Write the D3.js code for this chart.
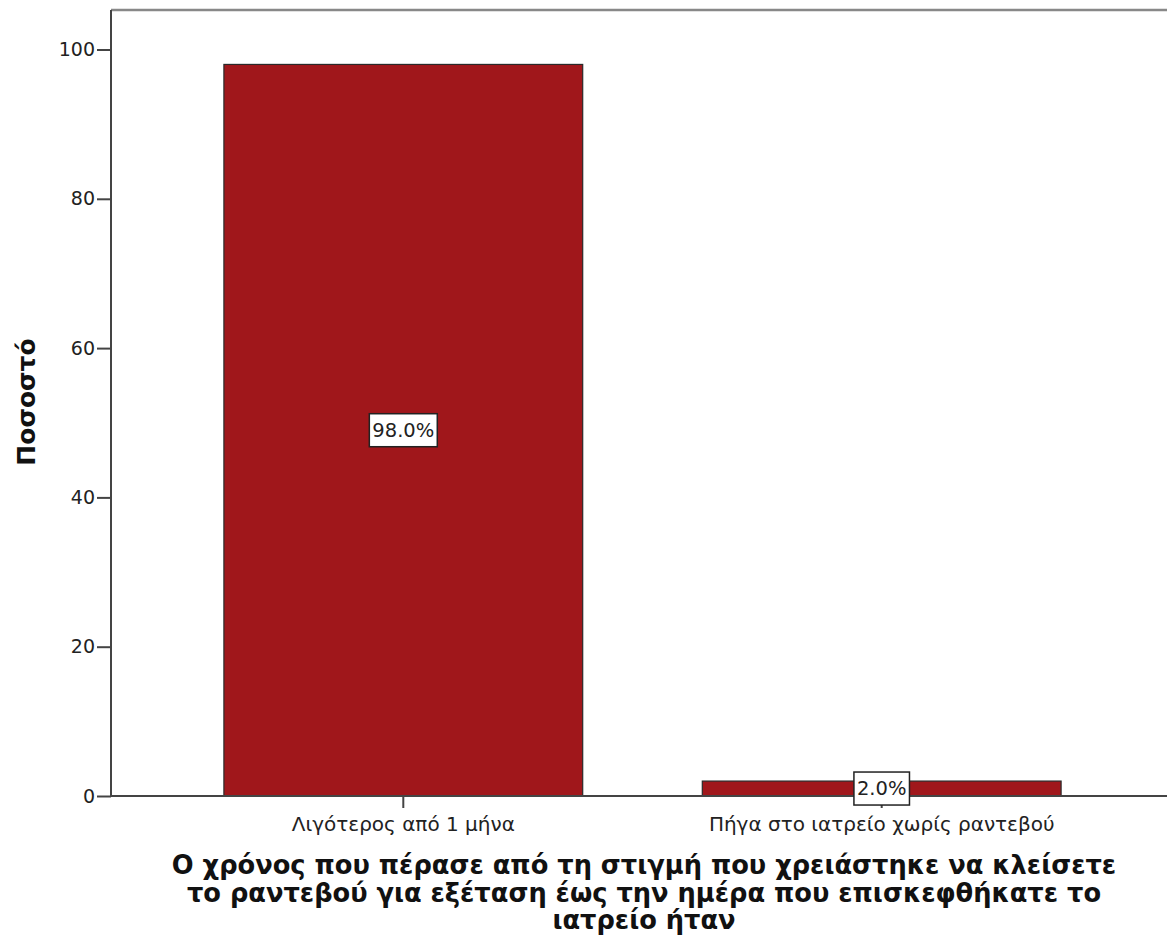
<!DOCTYPE html>
<html><head><meta charset="utf-8">
<script src="https://cdn.jsdelivr.net/npm/d3@7"></script>
<style>body{margin:0;background:#fff;} svg{display:block;}</style>
</head><body>
<svg id="c" width="1167" height="938"></svg>
<script>
const categories = ["Λιγότερος από 1 μήνα", "Πήγα στο ιατρείο χωρίς ραντεβού"];
const values = [98.0, 2.0];
const yTicks = [0, 20, 40, 60, 80, 100];
const yLabel = "Ποσοστό";
const xTitleLines = ["Ο χρόνος που πέρασε από τη στιγμή που χρειάστηκε να κλείσετε",
  "το ραντεβού για εξέταση έως την ημέρα που επισκεφθήκατε το",
  "ιατρείο ήταν"];

const svg = d3.select("#c");
const L = 111, T = 10, R = 1174, B = 796;
const x = d3.scaleBand().domain(categories).range([L, R]).paddingInner(0.25).paddingOuter(0.236);
const y = d3.scaleLinear().domain([0, 100]).range([B, 49.5]);

// frame top
svg.append("line").attr("x1", L).attr("x2", 1167).attr("y1", T).attr("y2", T)
  .attr("stroke", "#888").attr("stroke-width", 2.5);

// bars
svg.selectAll("rect.bar").data(values).join("rect").attr("class","bar")
  .attr("x", (d,i)=>x(categories[i])).attr("width", x.bandwidth())
  .attr("y", d=>y(d)).attr("height", d=>B - y(d))
  .attr("fill", "#A0171B").attr("stroke", "#2a2a2a").attr("stroke-width", 1.2);

// y axis
const ya = svg.append("g").attr("transform", `translate(${L},0)`)
  .call(d3.axisLeft(y).tickValues(yTicks).tickSize(14).tickPadding(2));
ya.select(".domain").attr("d", `M0,${T}V${B}`).attr("stroke", "#444").attr("stroke-width", 2);
ya.selectAll(".tick line").attr("stroke", "#444").attr("stroke-width", 2);
ya.selectAll(".tick text").attr("font-family", "DejaVu Sans").attr("font-size", 19).attr("fill", "#222");

// x axis
const xa = svg.append("g").attr("transform", `translate(0,${B})`)
  .call(d3.axisBottom(x).tickSize(12).tickPadding(9));
xa.select(".domain").attr("d", `M${L},0H1167`).attr("stroke", "#444").attr("stroke-width", 2);
xa.selectAll(".tick line").attr("stroke", "#444").attr("stroke-width", 2);
xa.selectAll(".tick text").attr("font-family", "DejaVu Sans").attr("font-size", 20).attr("fill", "#222");

// data labels
values.forEach((v,i)=>{
  const cx = x(categories[i]) + x.bandwidth()/2;
  const cy = y(v/2);
  const g = svg.append("g");
  const t = g.append("text").attr("x", cx).attr("y", cy).attr("text-anchor","middle")
    .attr("dominant-baseline","central").attr("font-family","DejaVu Sans").attr("font-size",19.5)
    .attr("fill","#222").text(v.toFixed(1)+"%");
  const bb = t.node().getBBox();
  g.insert("rect","text").attr("x", bb.x-3).attr("y", cy-16.5).attr("width", bb.width+6).attr("height", 33)
    .attr("fill","#fff").attr("stroke","#222").attr("stroke-width",1.5);
});

// y label
svg.append("text").attr("transform", `translate(35,402) rotate(-90)`).attr("text-anchor","middle")
  .attr("font-family","DejaVu Sans").attr("font-weight","bold").attr("font-size",25).attr("fill","#111").text(yLabel);

// x title
const tt = svg.append("text").attr("text-anchor","middle").attr("font-family","DejaVu Sans")
  .attr("font-weight","bold").attr("font-size",25.7).attr("fill","#111");
xTitleLines.forEach((l,i)=>{
  tt.append("tspan").attr("x", 644).attr("y", [874, 902, 929][i]).text(l);
});
</script>
</body></html>
